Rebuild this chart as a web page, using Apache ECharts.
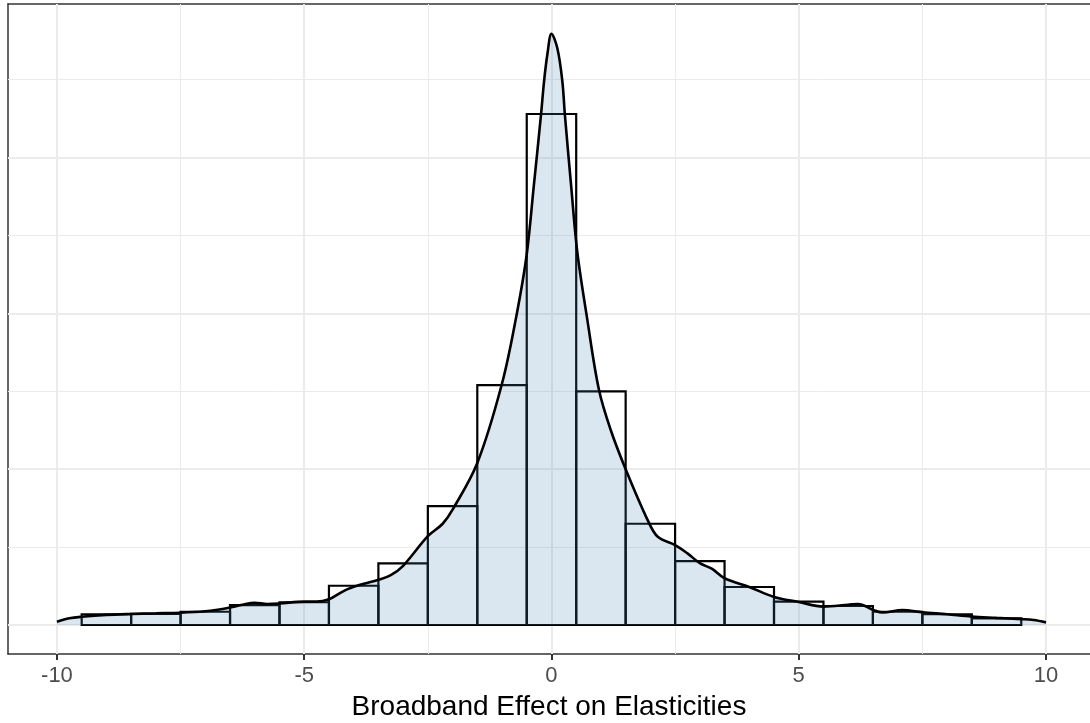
<!DOCTYPE html>
<html>
<head>
<meta charset="utf-8">
<script src="https://cdn.jsdelivr.net/npm/echarts@6/dist/echarts.min.js"></script>
<style>
html,body{margin:0;padding:0;background:#fff;}
#chart{width:1090px;height:723px;}
</style>
</head>
<body>
<div id="chart"></div>
<script>
// Histogram bins (centers, width 1) and density heights
var binCenters = [-9,-8,-7,-6,-5,-4,-3,-2,-1,0,1,2,3,4,5,6,7,8,9];
var binDensity = [0.0069,0.0071,0.0085,0.0128,0.0146,0.0252,0.0396,0.0763,0.154,0.328,0.150,0.065,0.041,0.0244,0.015,0.0122,0.0085,0.0069,0.0043];
var binWidth = 1;

// Kernel density curve
var densX = [-10,-9.75,-9.5,-9,-8.5,-8,-7.5,-7,-6.75,-6.5,-6.25,-6,-5.75,-5.5,-5,-4.75,-4.5,-4.25,-4,-3.5,-3.25,-3,-2.5,-2.2,-2,-1.5,-1,-0.7,-0.5,-0.36,-0.21,-0.15,-0.08,0,0.12,0.22,0.27,0.4,0.52,0.72,0.96,1.2,1.5,1.95,2.15,2.5,2.75,3,3.25,3.5,4,4.5,5,5.5,6,6.2,6.5,6.7,7.1,7.5,8,8.5,9,9.5,9.75,10];
var densY = [0.0021,0.0043,0.0053,0.0065,0.0071,0.0075,0.0079,0.0088,0.0098,0.0112,0.0130,0.0143,0.0135,0.0138,0.0150,0.0150,0.0165,0.0210,0.0245,0.0290,0.0320,0.0380,0.0570,0.0650,0.0740,0.1040,0.1550,0.2000,0.2380,0.2810,0.3280,0.3490,0.3670,0.3795,0.3700,0.3490,0.3280,0.2810,0.2400,0.1970,0.1510,0.1250,0.1000,0.0670,0.0566,0.0513,0.0460,0.0397,0.0360,0.0300,0.0244,0.0180,0.0148,0.0118,0.0130,0.0135,0.0098,0.0080,0.0096,0.0082,0.0069,0.0054,0.0046,0.0038,0.0032,0.0017];

// Axis settings
var xTickValues = [-10,-5,0,5,10];
var xMajorGrid = [-10,-5,0,5,10];
var xMinorGrid = [-7.5,-2.5,2.5,7.5];
var yMajorGrid = [0,0.1,0.2,0.3];
var yMinorGrid = [0.05,0.15,0.25,0.35];
var xTitle = 'Broadband Effect on Elasticities';

var FONT = '"Liberation Sans", Arial, Helvetica, sans-serif';

var chart = echarts.init(document.getElementById('chart'), null, {renderer:'canvas'});

var barData = binCenters.map(function(c,i){return [c, binDensity[i]];});
var densData = densX.map(function(x,i){return [x, densY[i]];});

var gridLines = [];
xMajorGrid.forEach(function(v){gridLines.push({xAxis:v, lineStyle:{color:'#ebebeb', width:2, type:'solid'}});});
xMinorGrid.forEach(function(v){gridLines.push({xAxis:v, lineStyle:{color:'#ebebeb', width:1, type:'solid'}});});
yMajorGrid.forEach(function(v){gridLines.push({yAxis:v, lineStyle:{color:'#ebebeb', width:2, type:'solid'}});});
yMinorGrid.forEach(function(v){gridLines.push({yAxis:v, lineStyle:{color:'#ebebeb', width:1, type:'solid'}});});

var borderStyle = {color:'#333333', width:1.5};

var option = {
  animation:false,
  backgroundColor:'#ffffff',
  grid:{left:8, top:4, right:0, bottom:69, show:false, containLabel:false, outerBoundsMode:'none'},
  xAxis:[{
    type:'value', min:-10.99, max:10.89, position:'bottom',
    axisLine:{show:true, onZero:false, lineStyle:borderStyle},
    splitLine:{show:false},
    axisTick:{show:true, length:6, customValues:xTickValues, lineStyle:{color:'#333333', width:2}},
    axisLabel:{show:true, customValues:xTickValues, color:'#4d4d4d', fontSize:22, fontFamily:FONT, margin:11},
    name:xTitle, nameLocation:'middle', nameGap:39,
    nameTextStyle:{color:'#000000', fontSize:28, fontFamily:FONT}
  },{
    type:'value', min:-10.99, max:10.89, position:'top',
    axisLine:{show:true, onZero:false, lineStyle:borderStyle},
    axisTick:{show:false}, axisLabel:{show:false}, splitLine:{show:false}
  }],
  yAxis:{
    type:'value', min:-0.01861, max:0.3986,
    axisLine:{show:true, onZero:false, lineStyle:borderStyle},
    axisTick:{show:false}, axisLabel:{show:false}, splitLine:{show:false}
  },
  series:[
    {
      type:'line', data:[], z:1, silent:true,
      markLine:{z:1, silent:true, symbol:['none','none'], label:{show:false}, animation:false, data:gridLines}
    },
    {
      type:'custom', z:2, silent:true,
      data:barData,
      renderItem:function(params, api){
        var c = api.value(0), h = api.value(1);
        var p0 = api.coord([c - binWidth/2, h]);
        var p1 = api.coord([c + binWidth/2, 0]);
        return {
          type:'rect',
          shape:{x:p0[0], y:p0[1], width:p1[0]-p0[0], height:p1[1]-p0[1]},
          style:{fill:'none', stroke:'#000000', lineWidth:2.2}
        };
      }
    },
    {
      type:'line', z:3, silent:true,
      data:densData, smooth:0.35, showSymbol:false, symbol:'none',
      lineStyle:{color:'#000000', width:2.6},
      areaStyle:{color:'#4682b4', opacity:0.2, origin:0}
    }
  ]
};
chart.setOption(option);
</script>
</body>
</html>
